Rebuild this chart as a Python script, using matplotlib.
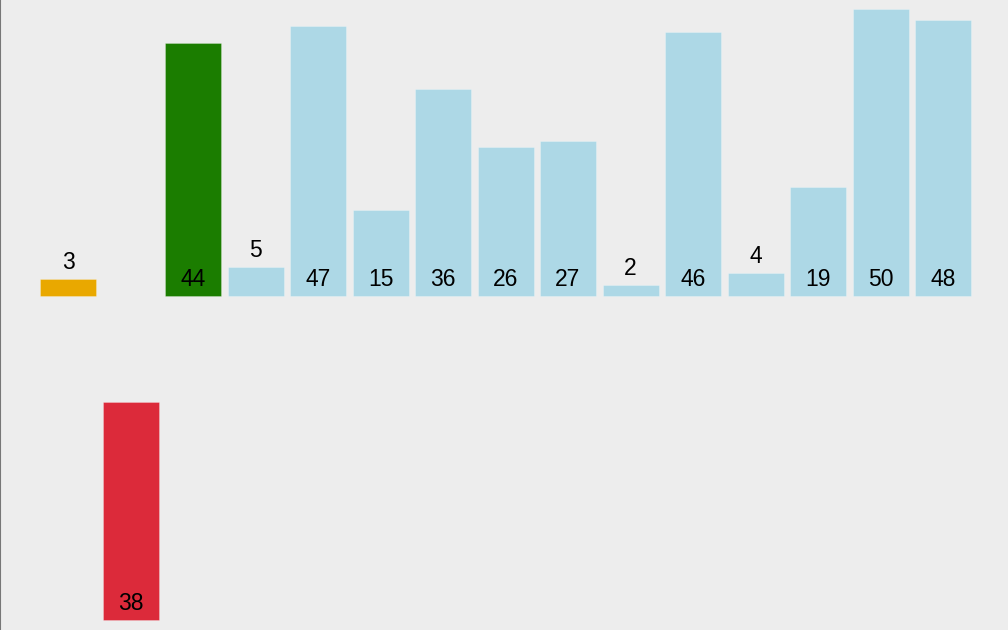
import matplotlib
matplotlib.use("Agg")
import matplotlib.pyplot as plt

# Data: top row (sorting array) and bottom row (element being moved)
top_slots = [0, 2, 3, 4, 5, 6, 7, 8, 9, 10, 11, 12, 13, 14]
top_values = [3, 44, 5, 47, 15, 36, 26, 27, 2, 46, 4, 19, 50, 48]
top_colors = ["#e9a800", "#1b7d00"] + ["#add8e6"] * 12
bottom_slots = [1]
bottom_values = [38]
bottom_colors = ["#dc2a3a"]

W, H, DPI = 1008, 630, 100
px_per_unit = 5.74
slot_px = 62.5
first_left_px = 40
bar_px = 56
baseline_px = 296          # from top
bottom_base_px = 620       # from top

fig = plt.figure(figsize=(W / DPI, H / DPI), dpi=DPI)
fig.patch.set_facecolor("#ededed")
ax = fig.add_axes([0, 0, 1, 1])
ax.set_facecolor("#ededed")

# x in slot units, y in value units (top baseline at 0)
x0 = -(first_left_px + bar_px / 2) / slot_px
ax.set_xlim(x0, x0 + W / slot_px)
ax.set_ylim(-(H - baseline_px) / px_per_unit, baseline_px / px_per_unit)
bw = bar_px / slot_px
bottom_base = -(bottom_base_px - baseline_px) / px_per_unit

font = dict(family=["Liberation Sans", "DejaVu Sans"], fontsize=16.5, color="black")
in_off = 9.5 / px_per_unit
out_off = 10 / px_per_unit

def draw(slots, values, colors, base):
    ax.bar(slots, values, width=bw, bottom=base, color=colors,
           edgecolor=(1, 1, 1, 0.35), linewidth=0.5, align="center")
    for s, v in zip(slots, values):
        if v < 8:
            ax.text(s, base + v + out_off, str(v), ha="center", va="baseline", **font)
        else:
            ax.text(s, base + in_off, str(v), ha="center", va="baseline", **font)

draw(top_slots, top_values, top_colors, 0)
draw(bottom_slots, bottom_values, bottom_colors, bottom_base)

for side in ["top", "right", "bottom"]:
    ax.spines[side].set_visible(False)
ax.spines["left"].set_color("#777777")
ax.spines["left"].set_linewidth(1.5)
ax.set_xticks([])
ax.set_yticks([])

fig.savefig("out.png", dpi=DPI, facecolor=fig.get_facecolor())
